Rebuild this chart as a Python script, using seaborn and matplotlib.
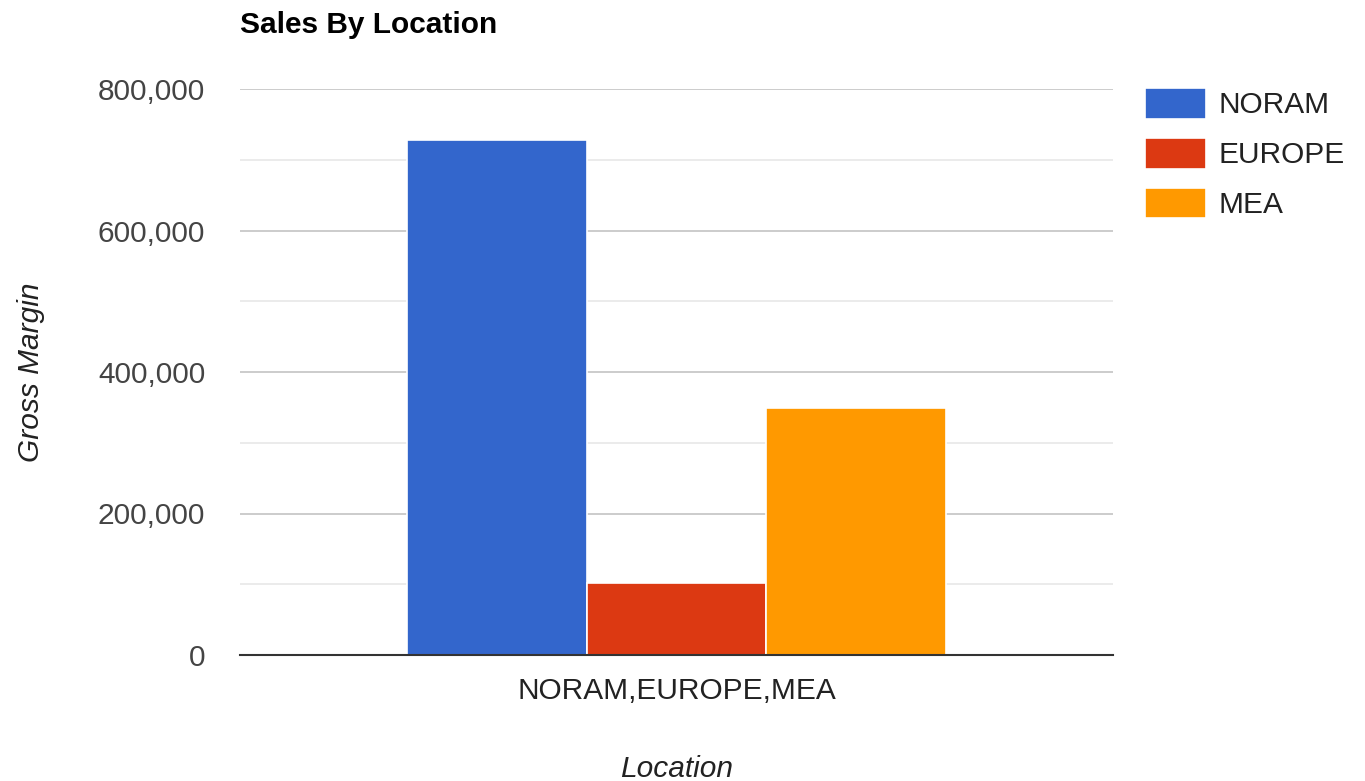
import matplotlib
matplotlib.use("Agg")
import matplotlib.pyplot as plt
import matplotlib.ticker as mticker
import pandas as pd
import seaborn as sns

# Gross margin by region
location = "NORAM,EUROPE,MEA"
regions = ["NORAM", "EUROPE", "MEA"]
gross_margin = [728000, 102000, 349000]
region_colors = ["#3366cc", "#dc3912", "#ff9900"]

df = pd.DataFrame({
    "Location": [location] * len(regions),
    "Region": regions,
    "Gross Margin": gross_margin,
})

sns.set_theme(style="white")
plt.rcParams["font.family"] = ["Liberation Sans", "DejaVu Sans"]

fig = plt.figure(figsize=(13.65, 7.81), dpi=100)
ax = fig.add_axes([240 / 1365, 1 - 655 / 781, (1113 - 240) / 1365, (655 - 89) / 781])

sns.barplot(
    data=df, x="Location", y="Gross Margin", hue="Region",
    hue_order=regions, palette=region_colors, width=0.8,
    edgecolor="white", linewidth=1.2, saturation=1, ax=ax, zorder=3,
)

ax.set_xlim(-0.6467, 0.6467)
ax.set_ylim(0, 800000)
ax.yaxis.set_major_locator(mticker.MultipleLocator(200000))
ax.yaxis.set_minor_locator(mticker.MultipleLocator(100000))
ax.yaxis.set_major_formatter(mticker.FuncFormatter(lambda v, _: f"{int(v):,}"))
ax.grid(which="major", axis="y", color="#cccccc", linewidth=1.4, zorder=0)
ax.grid(which="minor", axis="y", color="#ebebeb", linewidth=1.4, zorder=0)
ax.grid(axis="x", visible=False)

for side in ["top", "right", "left"]:
    ax.spines[side].set_visible(False)
ax.spines["bottom"].set_color("#333333")
ax.spines["bottom"].set_linewidth(1.5)
ax.spines["bottom"].set_zorder(4)

ax.tick_params(axis="both", which="both", length=0)
ax.tick_params(axis="y", labelsize=21.5, labelcolor="#444444", pad=25)
ax.tick_params(axis="x", labelsize=21.5, labelcolor="#222222", pad=16)

ax.set_xlabel("Location", fontsize=21.5, style="italic", color="#222222", labelpad=36)
ax.set_ylabel("Gross Margin", fontsize=21.5, style="italic", color="#222222", labelpad=38)

ax.set_title("Sales By Location", loc="left", fontsize=21.5, fontweight="bold",
             color="#000000", pad=40)

ax.legend(
    loc="upper left", bbox_to_anchor=(1145 / 1365, 1 - 88 / 781),
    bbox_transform=fig.transFigure, frameon=False, fontsize=21.5,
    handlelength=2.05, handleheight=1.2, handletextpad=0.4,
    labelspacing=0.62, borderpad=0, borderaxespad=0, labelcolor="#222222",
)

fig.savefig("out.png", dpi=100)
